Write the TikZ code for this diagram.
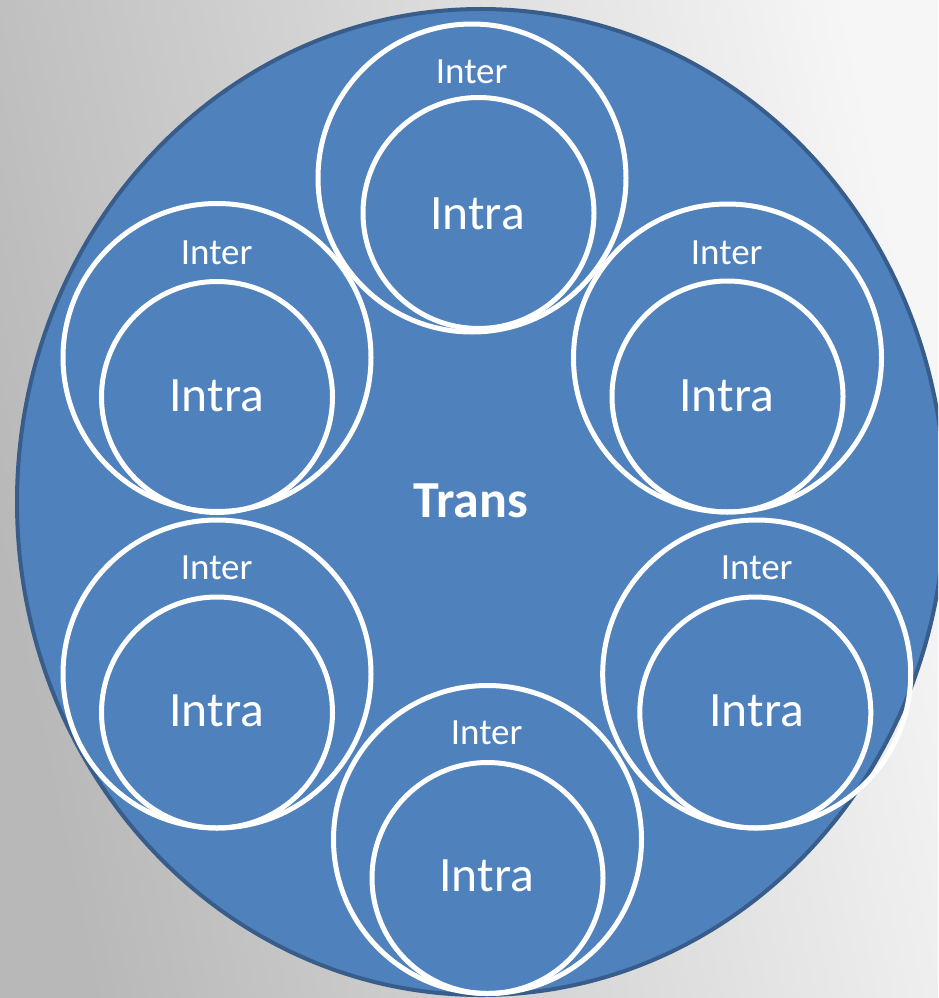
\documentclass[tikz,border=0pt]{standalone}
\usepackage{fontspec}
\setmainfont{Carlito}
\usetikzlibrary{shapes.geometric}
\definecolor{bgdark}{RGB}{184,184,184}
\definecolor{bglight}{RGB}{246,246,246}
\definecolor{fillblue}{RGB}{79,129,189}
\definecolor{edgeblue}{RGB}{56,93,138}
\begin{document}
\begin{tikzpicture}[x=1pt,y=-1pt,
  bigshape/.style={ellipse, draw=edgeblue, fill=fillblue, line width=4pt, minimum width=928pt, minimum height=986pt, inner sep=0pt},
  outerc/.style={circle, draw=white, line width=5pt, minimum size=308pt, inner sep=0pt},
  innerc/.style={circle, draw=white, line width=5pt, minimum size=231pt, inner sep=0pt},
  intertxt/.style={text=white, font=\fontsize{37}{44}\selectfont, anchor=base, inner sep=0pt},
  intratxt/.style={text=white, font=\fontsize{49.5}{58}\selectfont, anchor=base, inner sep=0pt},
  transtxt/.style={text=white, font=\bfseries\fontsize{52}{60}\selectfont, anchor=base, inner sep=0pt}]
\useasboundingbox (0,0) rectangle (938,998);
\clip (0,0) rectangle (938,998);
\shade[top color=bglight, bottom color=bgdark, shading angle=-78] (0,0) rectangle (938,998);
\node[bigshape] (big) at (481,502) {};
\node[transtxt] (trans) at (470.5,517) {Trans};
% top
\node[outerc] (o1) at (472,178) {};
\node[innerc] (i1) at (478.5,213) {};
\node[intertxt] (t1) at (471.7,83.5) {Inter};
\node[intratxt] (a1) at (477.5,229) {Intra};
% upper left
\node[outerc] (o2) at (217,357.5) {};
\node[innerc] (i2) at (217,397) {};
\node[intertxt] (t2) at (216.7,264) {Inter};
\node[intratxt] (a2) at (216.7,411.7) {Intra};
% upper right
\node[outerc] (o3) at (727.5,358) {};
\node[innerc] (i3) at (727.5,396.5) {};
\node[intertxt] (t3) at (726.7,264) {Inter};
\node[intratxt] (a3) at (726.7,411.7) {Intra};
% lower left
\node[outerc] (o4) at (217,674) {};
\node[innerc] (i4) at (217,712.5) {};
\node[intertxt] (t4) at (216.7,579) {Inter};
\node[intratxt] (a4) at (216.7,726.7) {Intra};
% lower right
\node[outerc] (o5) at (756.7,674) {};
\node[innerc] (i5) at (755.3,712.5) {};
\node[intertxt] (t5) at (756.7,579) {Inter};
\node[intratxt] (a5) at (756.7,726.7) {Intra};
% bottom
\node[outerc] (o6) at (487.5,839.5) {};
\node[innerc] (i6) at (487.5,878) {};
\node[intertxt] (t6) at (486.7,744) {Inter};
\node[intratxt] (a6) at (486.7,891.7) {Intra};
\end{tikzpicture}
\end{document}
